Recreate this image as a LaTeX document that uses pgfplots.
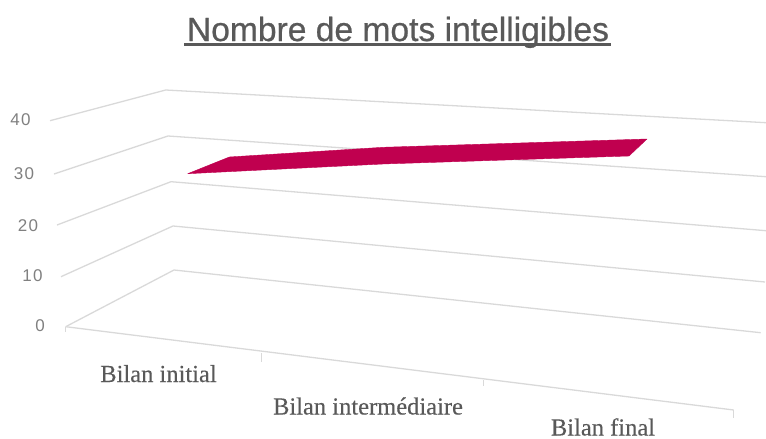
\documentclass[border=0pt]{standalone}
\usepackage{fontspec}
\setmainfont{Liberation Sans}
\newfontfamily\seriffont[FakeBold=0.3]{Liberation Serif}
\newfontfamily\titlefont[FakeBold=0.7]{Liberation Sans}
\usepackage{pgfplots}
\pgfplotsset{compat=1.18}
\definecolor{gridc}{HTML}{D9D9D9}
\definecolor{txt}{HTML}{595959}
\definecolor{numc}{HTML}{808080}
\definecolor{rib}{HTML}{C0004F}
\begin{document}
\begin{tikzpicture}
\useasboundingbox (0,0) rectangle (766pt,439pt);
\begin{axis}[
  at={(0,0)}, anchor=south west,
  scale only axis, width=766pt, height=439pt,
  xmin=0, xmax=766, ymin=0, ymax=439, y dir=reverse,
  hide axis, clip=true,
  every axis plot post/.append style={line join=round},
]
% level lines
\addplot[gridc, line width=1.3pt] coordinates {(50,120.7) (165.7,90) (766,122.7)};
\addplot[gridc, line width=1.3pt] coordinates {(54,174) (168,136) (766,176.7)};
\addplot[gridc, line width=1.3pt] coordinates {(57,225) (171,181.7) (766,230.7)};
\addplot[gridc, line width=1.3pt] coordinates {(61,276.7) (173,226) (765,282)};
\addplot[gridc, line width=1.3pt] coordinates {(65.7,326.7) (174,270) (760.7,332.7)};
% floor front edge and ticks
\addplot[gridc, line width=1.3pt] coordinates {(65.7,326.7) (733.7,410)};
\addplot[gridc, line width=0.9pt] coordinates {(65.7,327) (65.7,332)};
\addplot[gridc, line width=0.9pt] coordinates {(261.7,353) (261.7,362)};
\addplot[gridc, line width=0.9pt] coordinates {(483.7,380) (483.7,386)};
\addplot[gridc, line width=0.9pt] coordinates {(733.7,410) (733.7,418)};
% ribbon
\addplot[fill=rib, draw=rib, line width=0.4pt] coordinates {(187.7,173.7) (229.3,157) (383,147.3) (647,139) (629,156) (383,164)} -- cycle;
% title underline
\addplot[txt, line width=2.2pt] coordinates {(184,44.5) (611,44.5)};
% title and labels
\node[anchor=base, text=txt, inner sep=0pt, font=\titlefont\fontsize{33.6}{34}\selectfont] at (axis cs:398,41) {Nombre de mots intelligibles};
\node[anchor=center, text=numc, inner sep=0pt, font=\fontsize{17}{18}\selectfont] at (axis cs:20.5,120) {4\kern1.5pt 0};
\node[anchor=center, text=numc, inner sep=0pt, font=\fontsize{17}{18}\selectfont] at (axis cs:24,174) {3\kern1.5pt 0};
\node[anchor=center, text=numc, inner sep=0pt, font=\fontsize{17}{18}\selectfont] at (axis cs:28,226) {2\kern1.5pt 0};
\node[anchor=center, text=numc, inner sep=0pt, font=\fontsize{17}{18}\selectfont] at (axis cs:32.5,276) {1\kern1.5pt 0};
\node[anchor=center, text=numc, inner sep=0pt, font=\fontsize{17}{18}\selectfont] at (axis cs:40,326) {0};
\node[anchor=base, text=txt, inner sep=0pt, font=\seriffont\fontsize{24.5}{25}\selectfont] at (axis cs:158.5,382) {Bilan initial};
\node[anchor=base, text=txt, inner sep=0pt, font=\seriffont\fontsize{24.5}{25}\selectfont] at (axis cs:368,414.5) {Bilan intermédiaire};
\node[anchor=base, text=txt, inner sep=0pt, font=\seriffont\fontsize{24.5}{25}\selectfont] at (axis cs:603,435.5) {Bilan final};
\end{axis}
\end{tikzpicture}
\end{document}
